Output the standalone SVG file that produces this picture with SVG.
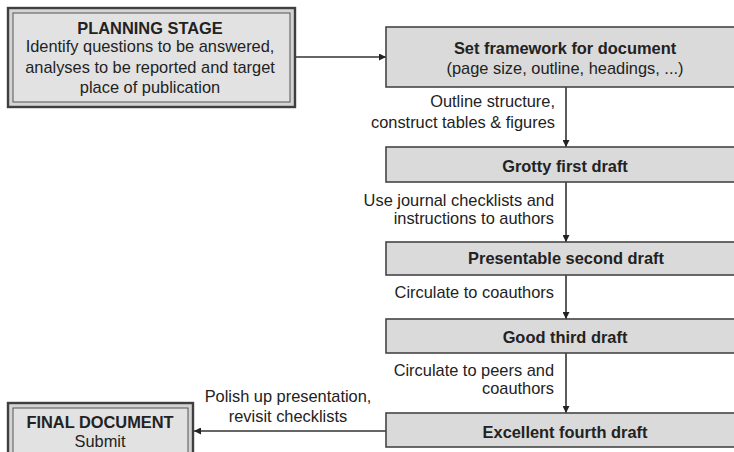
<svg xmlns="http://www.w3.org/2000/svg" width="734" height="452" viewBox="0 0 734 452">
<defs>
<style>
.box{fill:#dadada;stroke:#454545;stroke-width:1.6}
.outer{fill:#d4d4d4;stroke:#3f3f3f;stroke-width:2.4}
.inner{fill:#e2e2e2;stroke:#555;stroke-width:1}
text{font-family:"Liberation Sans",Arial,sans-serif;font-size:16.4px;fill:#222}
.b{font-weight:bold}
.c{text-anchor:middle}
.r{text-anchor:end}
.edge{stroke:#333;stroke-width:1.6;fill:none}
</style>
<marker id="ah" viewBox="0 0 10 10" refX="10" refY="5" markerWidth="7" markerHeight="7" markerUnits="userSpaceOnUse" orient="auto">
<path d="M0,0 L10,5 L0,10 z" fill="#222"/>
</marker>
</defs>
<rect width="734" height="452" fill="#ffffff"/>

<g id="connectors">
<line class="edge" x1="295" y1="57" x2="386" y2="57" marker-end="url(#ah)"/>
<line class="edge" x1="566" y1="87" x2="566" y2="147" marker-end="url(#ah)"/>
<line class="edge" x1="566" y1="182" x2="566" y2="242" marker-end="url(#ah)"/>
<line class="edge" x1="566" y1="275" x2="566" y2="319" marker-end="url(#ah)"/>
<line class="edge" x1="566" y1="353" x2="566" y2="413" marker-end="url(#ah)"/>
<line class="edge" x1="386" y1="431" x2="194" y2="431" marker-end="url(#ah)"/>
<text class="r" x="555" y="107">Outline structure,</text>
<text class="r" x="555" y="128">construct tables &amp; figures</text>
<text class="r" x="554" y="206">Use journal checklists and</text>
<text class="r" x="554" y="224">instructions to authors</text>
<text class="r" x="554" y="298">Circulate to coauthors</text>
<text class="r" x="554" y="376">Circulate to peers and</text>
<text class="r" x="554" y="394">coauthors</text>
<text class="c" x="288" y="402">Polish up presentation,</text>
<text class="c" x="288" y="422">revisit checklists</text>
</g>

<g id="planning">
<rect class="outer" x="8" y="8" width="287" height="99"/>
<rect class="inner" x="13" y="13" width="277" height="89"/>
<text class="c b" x="150" y="34">PLANNING STAGE</text>
<text class="c" x="150" y="52">Identify questions to be answered,</text>
<text class="c" x="150" y="72.5">analyses to be reported and target</text>
<text class="c" x="150" y="93">place of publication</text>
</g>

<g id="framework">
<rect class="box" x="386" y="27" width="360" height="60"/>
<text class="c b" x="565" y="54">Set framework for document</text>
<text class="c" x="565" y="74">(page size, outline, headings, ...)</text>
</g>

<g id="first-draft">
<rect class="box" x="386" y="147" width="360" height="35"/>
<text class="c b" x="565" y="172">Grotty first draft</text>
</g>

<g id="second-draft">
<rect class="box" x="386" y="242" width="360" height="33"/>
<text class="c b" x="566" y="264">Presentable second draft</text>
</g>

<g id="third-draft">
<rect class="box" x="386" y="319" width="360" height="34"/>
<text class="c b" x="565" y="343">Good third draft</text>
</g>

<g id="fourth-draft">
<rect class="box" x="386" y="413" width="360" height="34"/>
<text class="c b" x="565" y="438">Excellent fourth draft</text>
</g>

<g id="final">
<rect class="outer" x="8" y="403" width="185" height="62"/>
<rect class="inner" x="13" y="408" width="175" height="52"/>
<text class="c b" x="100" y="428">FINAL DOCUMENT</text>
<text class="c" x="100" y="447">Submit</text>
</g>
</svg>
